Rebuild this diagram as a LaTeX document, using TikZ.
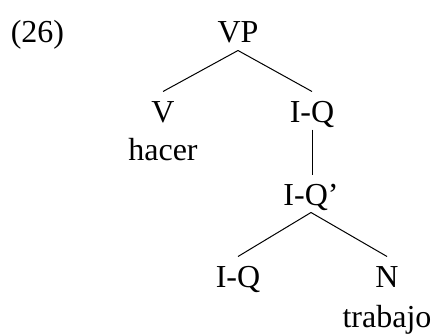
\documentclass[tikz,border=0pt]{standalone}
\usepackage{fontspec}
\setmainfont{Liberation Serif}
\usetikzlibrary{positioning}
\tikzset{lab/.style={font=\fontsize{32}{38}\selectfont, inner sep=0pt, anchor=base},
  cat/.style={lab, text height=28pt, text depth=5pt, inner ysep=2pt}}

\begin{document}
\begin{tikzpicture}[x=1pt,y=-1pt,line width=1pt]
\useasboundingbox (0,0) rectangle (438,334);
\node[lab] (ex) at (37.5,43) {(26)};
\node[cat] (vp) at (238,43) {VP};
\node[cat] (v) at (163,122) {V};
\node[lab] (hacer) at (163,160) {hacer};
\node[cat] (iq) at (312,122) {I-Q};
\node[cat] (iqbar) at (311,205) {I-Q'};
\node[cat] (iqhead) at (238,287) {I-Q};
\node[cat] (n) at (387,287) {N};
\node[lab] (trabajo) at (387,327) {trabajo};
\draw (vp.south) -- (v.north);
\draw (vp.south) -- (iq.north);
\draw (iq.south) -- (iq.south |- iqbar.north);
\draw (iqbar.south) -- (iqhead.north);
\draw (iqbar.south) -- (n.north);
\end{tikzpicture}
\end{document}
